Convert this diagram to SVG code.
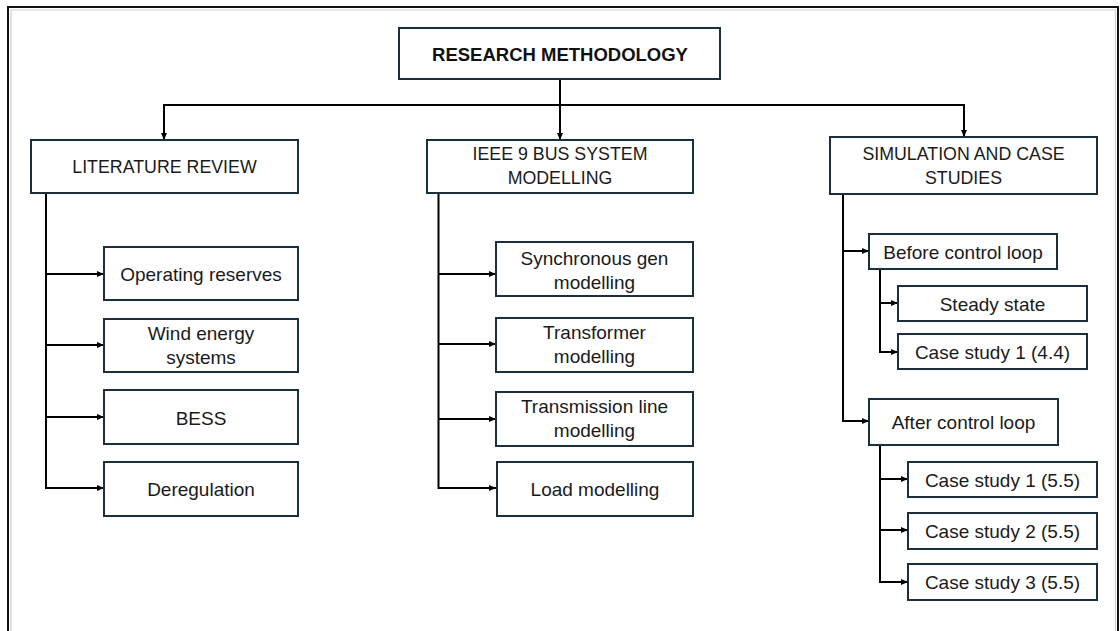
<svg xmlns="http://www.w3.org/2000/svg" width="1120" height="631" viewBox="0 0 1120 631">
  <style>
    .box { fill: #ffffff; stroke: #1b2f3d; stroke-width: 2; }
    .lbl { font-family: "Liberation Sans", Arial, sans-serif; font-size: 19px; fill: #1a1a1a; text-anchor: middle; dominant-baseline: central; }
    .head { font-size: 17.8px; }
    .title { font-size: 18.5px; font-weight: bold; fill: #111111; }
    .wire { fill: none; stroke: #000000; stroke-width: 2; }
    .arr { marker-end: url(#tip); }
  </style>
  <defs>
    <marker id="tip" markerUnits="userSpaceOnUse" markerWidth="8" markerHeight="8" viewBox="0 0 8 8" refX="7" refY="4" orient="auto">
      <path d="M0,1 L7,4 L0,7 Z" fill="#000000"/>
    </marker>
  </defs>

  <!-- page frame -->
  <rect x="0" y="0" width="1120" height="631" fill="#ffffff"/>
  <path d="M8,640 V7 H1118 V640" fill="none" stroke="#111111" stroke-width="2"/>
  <path d="M11,640 V10 H1115.5 V640" fill="none" stroke="#cfcfcf" stroke-width="1.2"/>

  <!-- connectors -->
  <g id="connectors">
    <!-- root to the three branches -->
    <path class="wire" d="M560,79 V105"/>
    <path class="wire" d="M164,105 H964"/>
    <path class="wire arr" d="M164,104 V140"/>
    <path class="wire arr" d="M560,105 V140"/>
    <path class="wire arr" d="M964,104 V137"/>

    <!-- literature review -->
    <path class="wire" d="M46,193 V489"/>
    <path class="wire arr" d="M45,274 H104"/>
    <path class="wire arr" d="M45,345 H104"/>
    <path class="wire arr" d="M45,417 H104"/>
    <path class="wire arr" d="M45,488 H104"/>

    <!-- IEEE 9 bus system modelling -->
    <path class="wire" d="M438.5,193 V489"/>
    <path class="wire arr" d="M438,274 H496"/>
    <path class="wire arr" d="M438,344 H496"/>
    <path class="wire arr" d="M438,419 H496"/>
    <path class="wire arr" d="M438,488 H496"/>

    <!-- simulation and case studies -->
    <path class="wire" d="M843,194 V422"/>
    <path class="wire arr" d="M842,251 H869"/>
    <path class="wire arr" d="M842,421 H869"/>
    <path class="wire" d="M880,269 V353"/>
    <path class="wire arr" d="M879,303 H898"/>
    <path class="wire arr" d="M879,352 H898"/>
    <path class="wire" d="M880,445 V583"/>
    <path class="wire arr" d="M879,479 H908"/>
    <path class="wire arr" d="M879,530 H908"/>
    <path class="wire arr" d="M879,582 H908"/>
  </g>

  <!-- root -->
  <g id="research-methodology">
    <rect class="box" x="399" y="28" width="321" height="51"/>
    <text class="lbl title" x="560" y="54">RESEARCH METHODOLOGY</text>
  </g>

  <!-- branch headers -->
  <g id="literature-review">
    <rect class="box" x="31" y="140" width="267" height="53"/>
    <text class="lbl head" x="164.5" y="167">LITERATURE REVIEW</text>
  </g>
  <g id="ieee-9-bus">
    <rect class="box" x="427" y="140" width="266" height="53"/>
    <text class="lbl head" x="560" y="154">IEEE 9 BUS SYSTEM</text>
    <text class="lbl head" x="560" y="178">MODELLING</text>
  </g>
  <g id="simulation-case-studies">
    <rect class="box" x="830" y="137" width="267" height="57"/>
    <text class="lbl head" x="963.5" y="154">SIMULATION AND CASE</text>
    <text class="lbl head" x="963.5" y="178">STUDIES</text>
  </g>

  <!-- literature review topics -->
  <g id="operating-reserves">
    <rect class="box" x="104" y="247" width="194" height="53"/>
    <text class="lbl" x="201" y="274">Operating reserves</text>
  </g>
  <g id="wind-energy-systems">
    <rect class="box" x="104" y="319" width="194" height="53"/>
    <text class="lbl" x="201" y="333">Wind energy</text>
    <text class="lbl" x="201" y="357">systems</text>
  </g>
  <g id="bess">
    <rect class="box" x="104" y="390" width="194" height="54"/>
    <text class="lbl" x="201" y="418">BESS</text>
  </g>
  <g id="deregulation">
    <rect class="box" x="104" y="462" width="194" height="54"/>
    <text class="lbl" x="201" y="489">Deregulation</text>
  </g>

  <!-- modelling topics -->
  <g id="synchronous-gen">
    <rect class="box" x="496" y="242" width="197" height="54"/>
    <text class="lbl" x="594.5" y="258">Synchronous gen</text>
    <text class="lbl" x="594.5" y="282">modelling</text>
  </g>
  <g id="transformer">
    <rect class="box" x="496" y="318" width="197" height="54"/>
    <text class="lbl" x="594.5" y="332">Transformer</text>
    <text class="lbl" x="594.5" y="356">modelling</text>
  </g>
  <g id="transmission-line">
    <rect class="box" x="496" y="392" width="197" height="54"/>
    <text class="lbl" x="594.5" y="406">Transmission line</text>
    <text class="lbl" x="594.5" y="430">modelling</text>
  </g>
  <g id="load">
    <rect class="box" x="497" y="462" width="196" height="54"/>
    <text class="lbl" x="595" y="489">Load modelling</text>
  </g>

  <!-- simulation stages -->
  <g id="before-control-loop">
    <rect class="box" x="869" y="234" width="188" height="35"/>
    <text class="lbl" x="963" y="252">Before control loop</text>
  </g>
  <g id="steady-state">
    <rect class="box" x="898" y="286" width="189" height="35"/>
    <text class="lbl" x="992.5" y="304">Steady state</text>
  </g>
  <g id="case-study-1-4-4">
    <rect class="box" x="898" y="334" width="189" height="35"/>
    <text class="lbl" x="992.5" y="352">Case study 1 (4.4)</text>
  </g>
  <g id="after-control-loop">
    <rect class="box" x="869" y="399" width="189" height="46"/>
    <text class="lbl" x="963.5" y="422">After control loop</text>
  </g>
  <g id="case-study-1-5-5">
    <rect class="box" x="908" y="462" width="189" height="35"/>
    <text class="lbl" x="1002.5" y="480">Case study 1 (5.5)</text>
  </g>
  <g id="case-study-2-5-5">
    <rect class="box" x="908" y="513" width="189" height="36"/>
    <text class="lbl" x="1002.5" y="531">Case study 2 (5.5)</text>
  </g>
  <g id="case-study-3-5-5">
    <rect class="box" x="908" y="564" width="189" height="36"/>
    <text class="lbl" x="1002.5" y="582">Case study 3 (5.5)</text>
  </g>
</svg>
